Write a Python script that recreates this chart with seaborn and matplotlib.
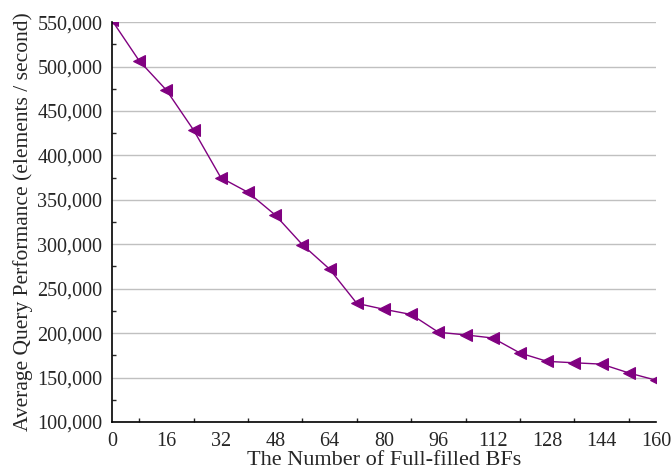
import matplotlib
matplotlib.use("Agg")
import matplotlib.pyplot as plt
import seaborn as sns
import pandas as pd
from matplotlib.ticker import MultipleLocator, FuncFormatter

# number of full-filled BFs vs average query performance
num_bfs = [0, 8, 16, 24, 32, 40, 48, 56, 64, 72, 80,
           88, 96, 104, 112, 120, 128, 136, 144, 152, 160]
perf = [552000, 506500, 473500, 428500, 375000, 358500, 333000, 299500, 272000, 233500, 226800,
        221000, 201000, 198000, 194500, 177600, 168200, 166600, 165100, 155200, 147000]

df = pd.DataFrame({'bfs': num_bfs, 'perf': perf})

sns.set_style('white')
plt.rcParams['font.family'] = ['Liberation Serif', 'DejaVu Serif']

fig = plt.figure(figsize=(6.72, 4.72), dpi=100)
ax = fig.add_axes([0.1667, 0.106, 0.8095, 0.847])

sns.lineplot(data=df, x='bfs', y='perf', ax=ax, color='#800080', linewidth=1,
             marker='<', markersize=9, markeredgecolor='#800080', markerfacecolor='#800080')

ax.set_xlim(0, 160)
ax.set_ylim(100000, 550000)
ax.xaxis.set_major_locator(MultipleLocator(16))
ax.xaxis.set_minor_locator(MultipleLocator(8))
ax.yaxis.set_major_locator(MultipleLocator(50000))
ax.yaxis.set_minor_locator(MultipleLocator(25000))
ax.yaxis.set_major_formatter(FuncFormatter(lambda v, p: f'{int(v):,}'))

ax.grid(axis='y', color='#c0c0c0', linewidth=1)
ax.grid(axis='x', visible=False)
ax.set_axisbelow(True)

for s in ['top', 'right']:
    ax.spines[s].set_visible(False)
for s in ['left', 'bottom']:
    ax.spines[s].set_color('black')
    ax.spines[s].set_linewidth(1.2)

ax.tick_params(axis='x', which='major', direction='in', length=6, width=1.2, labelsize=14.5, pad=7)
ax.tick_params(axis='x', which='minor', direction='in', length=3, width=1, bottom=True)
ax.tick_params(axis='y', which='major', direction='out', length=5, width=1.2, labelsize=14.5, pad=2)
ax.tick_params(axis='y', which='minor', direction='in', length=3, width=1, left=True)

ax.set_xlabel('The Number of Full-filled BFs', fontsize=16, labelpad=0)
ax.set_ylabel('Average Query Performance (elements / second)', fontsize=15.5, labelpad=3)

plt.savefig('out.png', dpi=100)
